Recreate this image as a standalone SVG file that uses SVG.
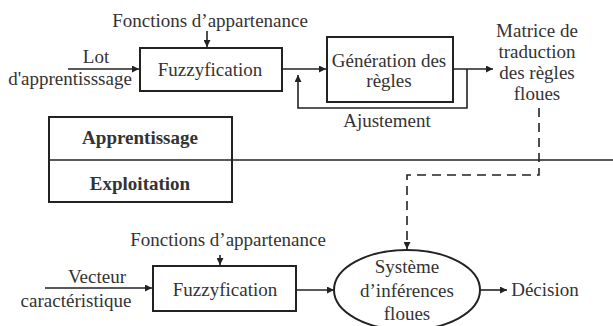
<svg xmlns="http://www.w3.org/2000/svg" width="613" height="326" viewBox="0 0 613 326">
<defs>
<marker id="ah" viewBox="0 0 10 10" refX="10" refY="5" markerWidth="8" markerHeight="7" markerUnits="userSpaceOnUse" orient="auto">
<path d="M0,0 L10,5 L0,10 z" fill="#222"/>
</marker>
<style>
text{font-size:19px;fill:#333;text-anchor:middle}
.b{font-weight:bold}
.box{fill:#fff;stroke:#222;stroke-width:2}
.ln{fill:none;stroke:#222;stroke-width:1.6}
.dash{fill:none;stroke:#222;stroke-width:1.6;stroke-dasharray:9,6}
</style>
</defs>
<rect width="613" height="326" fill="#fff"/>
<g id="connectors">
<line class="ln" x1="207" y1="31" x2="207" y2="47" marker-end="url(#ah)"/>
<line class="ln" x1="68" y1="69" x2="139" y2="69" marker-end="url(#ah)"/>
<line class="ln" x1="282" y1="69" x2="326" y2="69" marker-end="url(#ah)"/>
<line class="ln" x1="453" y1="69" x2="493" y2="69" marker-end="url(#ah)"/>
<polyline class="ln" points="467,69 467,108 298,108 298,75" marker-end="url(#ah)"/>
<line class="ln" x1="49" y1="160" x2="613" y2="160"/>
<polyline class="dash" points="539,108 539,175 407,175 407,249" marker-end="url(#ah)"/>
<line class="ln" x1="220" y1="255" x2="220" y2="265" marker-end="url(#ah)"/>
<line class="ln" x1="45" y1="288" x2="152" y2="288" marker-end="url(#ah)"/>
<line class="ln" x1="296" y1="290" x2="334" y2="290" marker-end="url(#ah)"/>
<line class="ln" x1="480" y1="290" x2="507" y2="290" marker-end="url(#ah)"/>
</g>
<g font-family="Liberation Serif, Times New Roman, serif">
<g id="label-fonctions-top"><text x="210" y="27">Fonctions d’appartenance</text></g>
<g id="label-lot"><text x="96" y="63">Lot</text><text x="70" y="85">d'apprentisssage</text></g>
<g id="fuzzy-top"><rect class="box" x="140" y="48" width="142" height="43"/><text x="210" y="76">Fuzzyfication</text></g>
<g id="generation"><rect class="box" x="327" y="37" width="126" height="65"/><text x="389" y="67">Génération des</text><text x="389" y="87">règles</text></g>
<g id="label-ajustement"><text x="387" y="127">Ajustement</text></g>
<g id="label-matrice"><text x="537" y="37">Matrice de</text><text x="537" y="58">traduction</text><text x="537" y="79">des règles</text><text x="537" y="100">floues</text></g>
<g id="phases"><rect class="box" x="49" y="117" width="183" height="85"/><line class="ln" x1="49" y1="160" x2="232" y2="160"/><text class="b" x="140" y="144">Apprentissage</text><text class="b" x="140" y="190">Exploitation</text></g>
<g id="label-fonctions-bottom"><text x="228" y="246">Fonctions d’appartenance</text></g>
<g id="label-vecteur"><text x="97" y="283">Vecteur</text><text x="76" y="307">caractéristique</text></g>
<g id="fuzzy-bottom"><rect class="box" x="153" y="266" width="143" height="45"/><text x="225" y="296">Fuzzyfication</text></g>
<g id="systeme"><ellipse class="box" cx="407" cy="290" rx="73" ry="40"/><text x="407" y="273">Système</text><text x="407" y="297">d’inférences</text><text x="407" y="320">floues</text></g>
<g id="label-decision"><text x="545" y="296">Décision</text></g>
</g>
</svg>
